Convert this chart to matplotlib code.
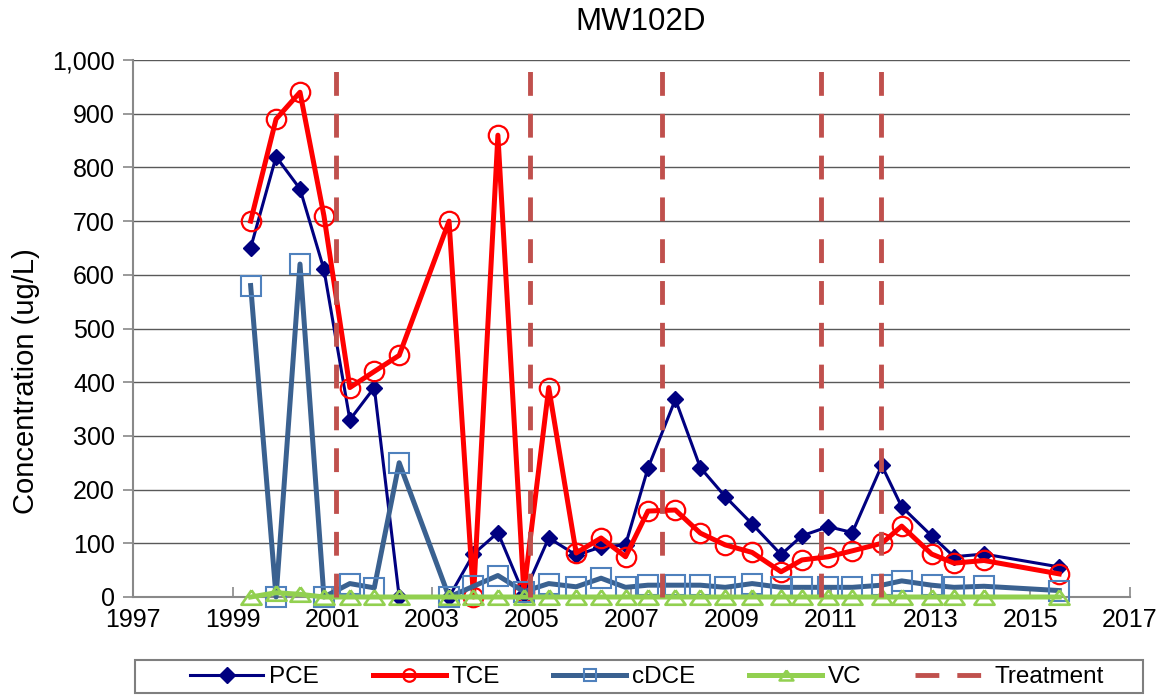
import matplotlib
matplotlib.use("Agg")
import matplotlib.pyplot as plt
from matplotlib.patches import Rectangle
from matplotlib.lines import Line2D
from matplotlib.ticker import FuncFormatter

plt.rcParams['font.family'] = ['Liberation Sans', 'DejaVu Sans']

dates = [1999.36, 1999.87, 2000.35, 2000.83, 2001.35, 2001.84, 2002.34, 2003.34,
         2003.83, 2004.32, 2004.84, 2005.34, 2005.89, 2006.39, 2006.88, 2007.33,
         2007.88, 2008.38, 2008.88, 2009.42, 2010.00, 2010.42, 2010.95, 2011.43,
         2012.02, 2012.42, 2013.02, 2013.47, 2014.07, 2015.58]
pce = [650, 820, 760, 610, 330, 390, 0, 0, 80, 120, 5, 110, 78, 93, 97, 240,
       368, 241, 187, 136, 79, 114, 131, 120, 245, 168, 114, 75, 80, 56]
tce = [700, 890, 940, 710, 390, 420, 450, 700, 0, 860, 10, 390, 82, 110, 75, 160,
       162, 119, 97, 83, 47, 69, 75, 86, 100, 132, 80, 63, 68, 43]
cdce = [580, 0, 620, 0, 25, 17, 250, 0, 20, 40, 10, 25, 19, 35, 18, 22,
        22, 22, 18, 25, 18, 18, 18, 18, 22, 30, 22, 18, 20, 12]
vc = [0, 8, 5, 0, 0, 0, 0, 0, 0, 0, 0, 0, 0, 0, 0, 0,
      0, 0, 0, 0, 0, 0, 0, 0, 0, 0, 0, 0, 0, 0]
treatment = [2001.07, 2004.96, 2007.62, 2010.81, 2012.01]
treat_span = [0, 1000]

title = "MW102D"
ylabel = "Concentration (ug/L)"
xticks = list(range(1997, 2018, 2))
yticks = list(range(0, 1001, 100))

W, H = 1161, 696
fig = plt.figure(figsize=(W / 100, H / 100), dpi=100)
ax = fig.add_axes([133 / W, 1 - 597 / H, (1130 - 133) / W, (597 - 60) / H])

c_pce = '#000080'
c_tce = '#FF0000'
c_cdce_line = '#3A6190'
c_cdce_mk = '#4F81BD'
c_vc = '#92D050'
c_tr = '#C0504D'

tri = [(0, 0.72), (-1, -0.72), (1, -0.72), (0, 0.72)]

ax.plot(dates, pce, color=c_pce, lw=2.2, marker='D', ms=8, mfc=c_pce, mec=c_pce, zorder=3, clip_on=False)
ax.plot(dates, tce, color=c_tce, lw=3.6, marker='o', ms=14, mfc='none', mec=c_tce, mew=1.6, zorder=4, clip_on=False)
ax.plot(dates, cdce, color=c_cdce_line, lw=3.6, marker='s', ms=14, mfc='none', mec=c_cdce_mk, mew=1.5, zorder=5, clip_on=False)
ax.plot(dates, vc, color=c_vc, lw=3.6, marker=tri, ms=14.5, mfc='none', mec=c_vc, mew=1.9, zorder=6, clip_on=False)
for t in treatment:
    ax.plot([t, t], treat_span, color=c_tr, lw=3.5, dashes=(4.9, 3.7), zorder=7, clip_on=False)

ax.set_xlim(1997, 2017)
ax.set_ylim(0, 1000)
ax.set_xticks(xticks)
ax.set_yticks(yticks)
ax.yaxis.set_major_formatter(FuncFormatter(lambda v, p: f"{int(v):,}"))
ax.tick_params(axis='both', labelsize=18, colors='#898989', labelcolor='black')
ax.tick_params(axis='x', direction='in', length=7, width=1.2, pad=8)
ax.tick_params(axis='y', direction='out', length=7, width=1.2, pad=6)
ax.yaxis.grid(True, color='#595959', lw=1)
ax.set_axisbelow(True)
for s in ['top', 'right']:
    ax.spines[s].set_visible(False)
for s in ['left', 'bottom']:
    ax.spines[s].set_color('#898989')
    ax.spines[s].set_linewidth(1.5)

fig.text(641 / W, 1 - 22 / H, title, fontsize=22.5, ha='center', va='center')
fig.text(26 / W, 1 - 381 / H, ylabel, fontsize=21, rotation=90, ha='center', va='center')

# legend frame
fig.patches.append(Rectangle((135 / W, 1 - 693 / H), (1143 - 135) / W, (693 - 660) / H,
                             transform=fig.transFigure, fill=False, edgecolor='#7f7f7f', lw=1.5))
handles = [
    Line2D([], [], color=c_pce, lw=2.2, marker='D', ms=8, mfc=c_pce, mec=c_pce),
    Line2D([], [], color=c_tce, lw=3.6, marker='o', ms=9, mfc='none', mec=c_tce, mew=1.6),
    Line2D([], [], color=c_cdce_line, lw=3.6, marker='s', ms=9, mfc='none', mec=c_cdce_mk, mew=1.5),
    Line2D([], [], color=c_vc, lw=3.6, marker=tri, ms=10, mfc='none', mec=c_vc, mew=1.8),
    Line2D([], [], color=c_tr, lw=3.5, dashes=(4.9, 3.7)),
]
labels = ['PCE', 'TCE', 'cDCE', 'VC', 'Treatment']
fig.legend(handles, labels, loc='center', bbox_to_anchor=(647 / W, 1 - 677 / H), ncol=5,
           frameon=False, fontsize=17.5, handlelength=3.0, handletextpad=0.25,
           columnspacing=2.2, borderpad=0, borderaxespad=0)

fig.savefig('out.png', dpi=100)
